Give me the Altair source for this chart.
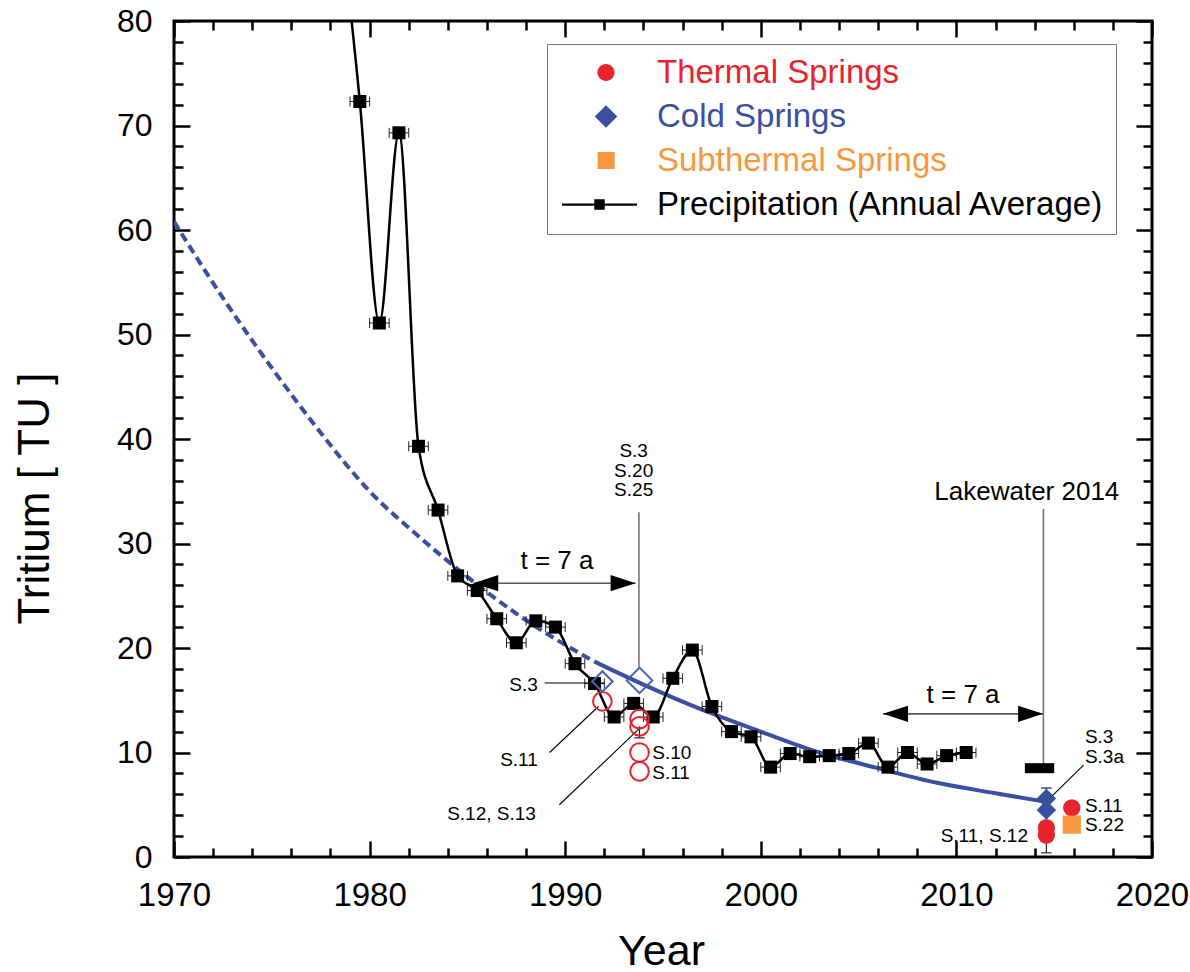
import altair as alt
import pandas as pd

# ---------------- data ----------------
precip_years = [1979.5, 1980.5, 1981.5, 1982.5, 1983.5, 1984.5, 1985.5, 1986.5,
                1987.5, 1988.5, 1989.5, 1990.5, 1991.5, 1992.5, 1993.5, 1994.5,
                1995.5, 1996.5, 1997.5, 1998.5, 1999.5, 2000.5, 2001.5, 2002.5,
                2003.5, 2004.5, 2005.5, 2006.5, 2007.5, 2008.5, 2009.5, 2010.5]
precip_tu = [72.3, 51.1, 69.3, 39.3, 33.2, 26.9, 25.5, 22.8,
             20.5, 22.6, 22.0, 18.5, 16.6, 13.4, 14.7, 13.4,
             17.1, 19.8, 14.4, 12.0, 11.5, 8.6, 9.9, 9.6,
             9.7, 9.9, 10.9, 8.6, 10.0, 8.9, 9.7, 10.0]
# line lead-in from above the plot top
lead_year = [1978.5]
lead_tu = [90.0]

fit_dash_years = [1970, 1972.5, 1975, 1977.5, 1980, 1982.5, 1985, 1987.5, 1990, 1991.5]
fit_dash_tu = [60.8, 53.5, 46.8, 40.6, 35.0, 30.7, 26.8, 23.3, 20.3, 18.7]
fit_solid_years = [1991.5, 1994, 1997, 2000, 2003, 2006, 2009, 2012, 2014.5]
fit_solid_tu = [18.7, 16.5, 14.1, 12.0, 10.0, 8.5, 7.1, 6.1, 5.3]

# hollow (1990s) spring samples
thermal_old_year = [1991.9, 1993.8, 1993.8, 1993.8, 1993.8]
thermal_old_tu = [14.9, 13.2, 12.5, 10.0, 8.2]
cold_old_year = [1991.9, 1993.8]
cold_old_tu = [16.8, 16.9]
cold_old_size = [420, 650]

# filled (2014-2015) spring samples
thermal_new_year = [2014.6, 2014.6, 2015.9]
thermal_new_tu = [2.8, 2.1, 4.7]
cold_new_year = [2014.6, 2014.6]
cold_new_tu = [5.6, 4.5]
sub_new_year = [2015.9]
sub_new_tu = [3.1]

# vertical error bars on spring samples
err_year = [2014.6, 2014.6, 1993.8]
err_lo = [5.6, 0.4, 11.4]
err_hi = [6.6, 2.1, 12.5]
err_cap = [6.6, 0.4, 11.4]

lake_year = [2013.5]
lake_year2 = [2015.0]
lake_tu = [8.5]

# annotation segments (black pointers)
ptr_x = [1988.95, 1989.2, 1989.7, 2016.5]
ptr_y = [16.65, 10.0, 5.0, 8.8]
ptr_x2 = [1992.0, 1991.7, 1993.8, 2014.6]
ptr_y2 = [16.65, 14.4, 12.3, 5.3]
# gray vertical guide lines
guide_x = [1993.77, 2014.45]
guide_y = [33.0, 33.3]
guide_y2 = [18.2, 8.5]
# t = 7 a arrows
arrow_x = [1985.3, 2006.25]
arrow_x2 = [1993.6, 2014.43]
arrow_y = [26.2, 13.7]

# labels
small_center_text = ["S.3", "S.20", "S.25"]
small_center_x = [1993.5, 1993.5, 1993.5]
small_center_y = [38.3, 36.4, 34.5]
small_right_text = ["S.3", "S.11", "S.12, S.13", "S.11, S.12"]
small_right_x = [1988.6, 1988.6, 1988.5, 2013.66]
small_right_y = [15.9, 8.7, 3.5, 1.45]
small_left_text = ["S.10", "S.11", "S.3", "S.3a", "S.11", "S.22"]
small_left_x = [1994.45, 1994.45, 2016.57, 2016.57, 2016.57, 2016.57]
small_left_y = [9.4, 7.5, 10.9, 9.0, 4.3, 2.5]
big_text = ["t = 7 a", "t = 7 a", "Lakewater 2014"]
big_x = [1989.58, 2010.34, 2013.6]
big_y = [27.6, 14.7, 34.2]

legend_names = ["Thermal Springs", "Cold Springs", "Subthermal Springs",
                "Precipitation (Annual Average)"]

# ---------------- styles ----------------
RED = "#e8232b"
BLUE = "#3a4fa0"
BLUE_H = "#4561b3"
ORANGE = "#f7983f"
FONT = "Liberation Sans"

legend_colors = [RED, BLUE, ORANGE, "black"]
legend_paths = [
    "M0.48,0A0.227,0.227,0,1,1,0.026,0A0.227,0.227,0,1,1,0.48,0Z",
    "M0.253,-0.3L0.553,0L0.253,0.3L-0.047,0Z",
    "M0.03,-0.227H0.484V0.227H0.03Z",
    "M-0.92,-0.03H1.08V0.03H-0.92Z M-0.06,-0.14H0.22V0.14H-0.06Z",
]

xs = alt.Scale(domain=[1970, 2020], nice=False, zero=False)
ys = alt.Scale(domain=[0, 80], nice=False, zero=False)

x_major = list(range(1970, 2021, 10))
x_minor = [v for v in range(1970, 2021, 2) if v % 10 != 0]
y_major = list(range(0, 81, 10))
y_minor = [v for v in range(0, 81, 2) if v % 10 != 0]

MAJ = {"expr": "-16"}
MIN = {"expr": "-9"}


def ax(orient, values, size, labels=False, **kw):
    base = dict(orient=orient, values=values, tickSize=size, tickWidth=2.5,
                tickColor="black", domain=False, grid=False, labels=labels,
                title=None)
    base.update(kw)
    return alt.Axis(**base)


ax_bottom = ax("bottom", x_major, MAJ, labels=True, format="d", labelFont=FONT,
               labelFontSize=33, labelColor="black", labelPadding=38,
               labelFlush=False, labelOverlap=False,
               title="Year", titleFont=FONT, titleFontSize=43,
               titleFontWeight="normal", titleColor="black", titleX=487,
               titleY=107, titleBaseline="alphabetic", titleAlign="center")
ax_left = ax("left", y_major, MAJ, labels=True, format="d", labelFont=FONT,
             labelFontSize=32, labelColor="black", labelPadding=38,
             labelFlush=False, labelOverlap=False,
             title="Tritium [ TU ]", titleFont=FONT, titleFontSize=44,
             titleFontWeight="normal", titleColor="black", titleX=-126,
             titleY=477, titleBaseline="alphabetic", titleAlign="center")
ax_bottom_minor = ax("bottom", x_minor, MIN)
ax_left_minor = ax("left", y_minor, MIN)
ax_top = ax("top", x_major, MAJ)
ax_right = ax("right", y_major, MAJ)
ax_top_minor = ax("top", x_minor, MIN)
ax_right_minor = ax("right", y_minor, MIN)


def X(field="year", axis=None):
    return alt.X(f"{field}:Q", scale=xs, axis=axis)


def Y(field="tu", axis=None):
    return alt.Y(f"{field}:Q", scale=ys, axis=axis)


# ---------------- tables ----------------
precip = pd.DataFrame({"year": precip_years, "tu": precip_tu})
precip_line_df = pd.DataFrame({"year": lead_year + precip_years,
                               "tu": lead_tu + precip_tu})
fit_dash = pd.DataFrame({"year": fit_dash_years, "tu": fit_dash_tu})
fit_solid = pd.DataFrame({"year": fit_solid_years, "tu": fit_solid_tu})

# ---------------- layers ----------------
dash_layer = alt.Chart(fit_dash).mark_line(
    color=BLUE, strokeWidth=4, strokeDash=[9, 5], interpolate="monotone", clip=True
).encode(x=X(axis=ax_top), y=Y(axis=ax_right))

solid_layer = alt.Chart(fit_solid).mark_line(
    color=BLUE, strokeWidth=4, interpolate="monotone", clip=True
).encode(x=X(axis=ax_top_minor), y=Y(axis=ax_right_minor))

err_rule = alt.Chart(precip).transform_calculate(
    lo="datum.year - 0.5", hi="datum.year + 0.5"
).mark_rule(color="#222", strokeWidth=1).encode(
    x=X("lo"), x2="hi:Q", y=Y())

err_caps_l = alt.Chart(precip).transform_calculate(
    lo="datum.year - 0.5"
).mark_point(shape="M0,-1L0,1", size=100, color="#222", strokeWidth=1,
             filled=False, opacity=1).encode(x=X("lo"), y=Y())
err_caps_r = alt.Chart(precip).transform_calculate(
    hi="datum.year + 0.5"
).mark_point(shape="M0,-1L0,1", size=100, color="#222", strokeWidth=1,
             filled=False, opacity=1).encode(x=X("hi"), y=Y())

precip_line = alt.Chart(precip_line_df).mark_line(
    color="black", strokeWidth=2.5, interpolate="monotone", clip=True
).encode(x=X(axis=ax_bottom), y=Y(axis=ax_left))

precip_pts = alt.Chart(precip).mark_point(
    shape="square", filled=True, size=170, color="black", opacity=1
).encode(x=X(axis=ax_bottom_minor), y=Y(axis=ax_left_minor))

guides = alt.Chart(pd.DataFrame({"x": guide_x, "y": guide_y, "y2": guide_y2})).mark_rule(
    color="#777", strokeWidth=1.6).encode(x=X("x"), y=Y("y"), y2="y2:Q")

pointers = alt.Chart(pd.DataFrame({"x": ptr_x, "y": ptr_y, "x2": ptr_x2, "y2": ptr_y2})).mark_rule(
    color="black", strokeWidth=1.1).encode(x=X("x"), y=Y("y"), x2="x2:Q", y2="y2:Q")

arrows_df = pd.DataFrame({"x": arrow_x, "x2": arrow_x2, "y": arrow_y})
arrow_lines = alt.Chart(arrows_df).mark_rule(color="#555", strokeWidth=1.6).encode(
    x=X("x"), x2="x2:Q", y=Y("y"))
head_left = alt.Chart(arrows_df).mark_point(
    shape="M0,0L2,-0.65L2,0.65Z", size=625, filled=True, color="black", opacity=1
).encode(x=X("x"), y=Y("y"))
head_right = alt.Chart(arrows_df).mark_point(
    shape="M0,0L-2,-0.65L-2,0.65Z", size=625, filled=True, color="black", opacity=1
).encode(x=X("x2"), y=Y("y"))

lake = alt.Chart(pd.DataFrame({"x": lake_year, "x2": lake_year2, "y": lake_tu})).mark_rule(
    color="black", strokeWidth=10).encode(x=X("x"), x2="x2:Q", y=Y("y"))

thermal_old = alt.Chart(pd.DataFrame({"year": thermal_old_year, "tu": thermal_old_tu})).mark_point(
    shape="circle", size=350, color=RED, strokeWidth=2, filled=False, opacity=1
).encode(x=X(), y=Y())

cold_old = alt.Chart(pd.DataFrame({"year": cold_old_year, "tu": cold_old_tu, "s": cold_old_size})).mark_point(
    shape="diamond", color=BLUE_H, strokeWidth=2, filled=False, opacity=1
).encode(x=X(), y=Y(), size=alt.Size("s:Q", scale=None, legend=None))

err_df = pd.DataFrame({"x": err_year, "lo": err_lo, "hi": err_hi, "cap": err_cap})
spring_err = alt.Chart(err_df).mark_rule(color="#222", strokeWidth=1.2).encode(
    x=X("x"), y=Y("lo"), y2="hi:Q")
spring_cap = alt.Chart(err_df).mark_point(
    shape="M-1,0L1,0", size=110, color="#222", strokeWidth=1.2, filled=False, opacity=1
).encode(x=X("x"), y=Y("cap"))

thermal_new = alt.Chart(pd.DataFrame({"year": thermal_new_year, "tu": thermal_new_tu})).mark_point(
    shape="circle", size=300, color=RED, filled=True, opacity=1
).encode(x=X(), y=Y())
cold_new = alt.Chart(pd.DataFrame({"year": cold_new_year, "tu": cold_new_tu})).mark_point(
    shape="diamond", size=380, color=BLUE, filled=True, opacity=1
).encode(x=X(), y=Y())
sub_new = alt.Chart(pd.DataFrame({"year": sub_new_year, "tu": sub_new_tu})).mark_point(
    shape="square", size=330, color=ORANGE, filled=True, opacity=1
).encode(x=X(), y=Y())


def texts(txt, xv, yv, align, size):
    df = pd.DataFrame({"t": txt, "x": xv, "y": yv})
    return alt.Chart(df).mark_text(
        align=align, baseline="alphabetic", font=FONT, fontSize=size, color="black"
    ).encode(x=X("x"), y=Y("y"), text="t:N")


t_center = texts(small_center_text, small_center_x, small_center_y, "center", 19)
t_right = texts(small_right_text, small_right_x, small_right_y, "right", 19)
t_left = texts(small_left_text, small_left_x, small_left_y, "left", 19)
t_big = texts(big_text, big_x, big_y, "center", 26)

label_color_expr = (
    f"datum.label == '{legend_names[0]}' ? '{RED}' : "
    f"datum.label == '{legend_names[1]}' ? '{BLUE}' : "
    f"datum.label == '{legend_names[2]}' ? '{ORANGE}' : 'black'"
)
leg = alt.Legend(
    title=None, orient="none", legendX=373, legendY=23,
    symbolSize=5625, symbolStrokeWidth=0, symbolOpacity=1,
    labelFont=FONT, labelFontSize=33, labelOffset=23, labelLimit=700,
    labelColor={"expr": label_color_expr},
    clipHeight=33, padding=12, rowPadding=10,
    strokeColor="#777", fillColor="white",
)
legend_df = pd.DataFrame({"cat": legend_names, "year": [1900] * 4, "tu": [-100] * 4})
legend_layer = alt.Chart(legend_df).mark_point(filled=True, clip=True, opacity=1).encode(
    x=X(), y=Y(),
    color=alt.Color("cat:N", scale=alt.Scale(domain=legend_names, range=legend_colors), legend=leg),
    shape=alt.Shape("cat:N", scale=alt.Scale(domain=legend_names, range=legend_paths), legend=leg),
)

chart = alt.layer(
    dash_layer, solid_layer, err_rule, err_caps_l, err_caps_r, precip_line, precip_pts,
    guides, pointers, arrow_lines, head_left, head_right, lake,
    spring_err, spring_cap, thermal_old, cold_old, thermal_new, cold_new, sub_new,
    t_center, t_right, t_left, t_big, legend_layer,
).resolve_axis(
    x="independent", y="independent"
).properties(
    width=978, height=836,
    autosize=alt.AutoSizeParams(type="none"),
    padding={"left": 174, "top": 21, "right": 38, "bottom": 115},
    background="white",
).configure_view(
    stroke="black", strokeWidth=3
)

chart.save("out.html", embed_options={"renderer": "svg", "actions": False})
